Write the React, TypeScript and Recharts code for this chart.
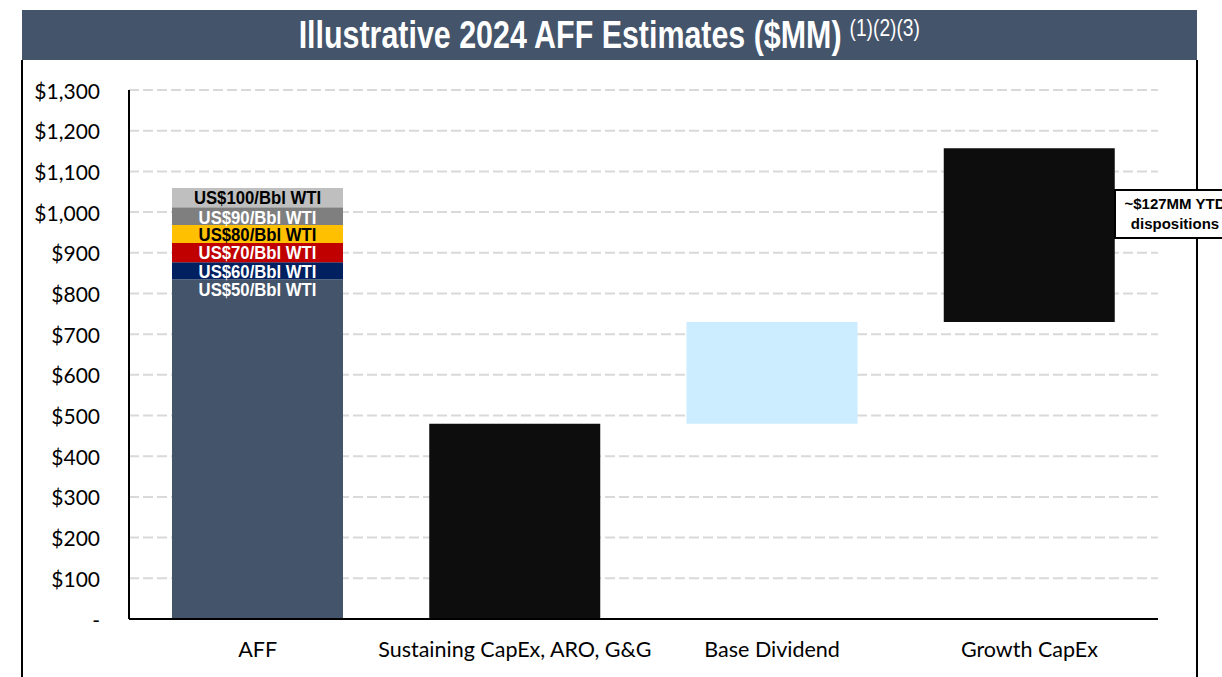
import { BarChart, Bar, XAxis, YAxis, CartesianGrid, Cell, LabelList } from "recharts";

// Categories along the x axis
const categories = ["AFF", "Sustaining CapEx, ARO, G&G", "Base Dividend", "Growth CapEx"];

// AFF stack: increments per WTI price deck ($MM)
const wtiKeys = ["w50", "w60", "w70", "w80", "w90", "w100"];
const wtiLabels = ["US$50/Bbl WTI", "US$60/Bbl WTI", "US$70/Bbl WTI", "US$80/Bbl WTI", "US$90/Bbl WTI", "US$100/Bbl WTI"];
const wtiSteps = [835, 42, 47, 44, 44, 47];
const wtiColors = ["#44546A", "#002060", "#C00000", "#FFC000", "#7F7F7F", "#BFBFBF"];
const wtiTextColors = ["#FFFFFF", "#FFFFFF", "#FFFFFF", "#000000", "#FFFFFF", "#000000"];

// Waterfall uses: invisible base + visible amount
const offsets = [0, 0, 480, 730];
const amounts = [0, 480, 250, 427];
const amountColors = ["#0D0D0D", "#0D0D0D", "#CCECFF", "#0D0D0D"];

const yTicks = [0, 100, 200, 300, 400, 500, 600, 700, 800, 900, 1000, 1100, 1200, 1300];

const data = categories.map((name, i) => {
  const row: any = { name, offset: offsets[i] };
  if (i === 0) {
    wtiKeys.forEach((k, j) => (row[k] = wtiSteps[j]));
  } else {
    row.amount = amounts[i];
  }
  return row;
});

const ARIAL = "'Liberation Sans', Arial, sans-serif";
const BODY = "Lato, 'Open Sans', Calibri, sans-serif";

const fmtY = (v: number) => (v === 0 ? "-" : "$" + v.toLocaleString("en-US"));

const YTick = (props: any) => {
  const { x, y, payload } = props;
  return (
    <text x={x - 21} y={y} textAnchor="end" dominantBaseline="central" fontFamily={BODY} fontSize={21} fill="#000">
      {fmtY(payload.value)}
    </text>
  );
};

const XTick = (props: any) => {
  const { x, y, payload } = props;
  return (
    <text x={x} y={y + 22} textAnchor="middle" dominantBaseline="central" fontFamily={BODY} fontSize={21.5} fill="#000">
      {payload.value}
    </text>
  );
};

// narrow-looking bold label at the top of each AFF segment
const wtiLabel = (idx: number) => (props: any) => {
  const { x, y, width, value } = props;
  if (!value) return null;
  return (
    <text
      transform={`translate(${x + width / 2}, ${y + 10}) scale(0.88, 1)`}
      textAnchor="middle"
      dominantBaseline="central"
      fontFamily={ARIAL}
      fontWeight="bold"
      fontSize={19}
      fill={wtiTextColors[idx]}
    >
      {wtiLabels[idx]}
    </text>
  );
};

export default function App() {
  return (
    <div style={{ position: "absolute", left: 0, top: 0, width: 1222, height: 677, background: "#fff", overflow: "hidden" }}>
      {/* title banner */}
      <div
        style={{
          position: "absolute",
          left: 22,
          top: 10,
          width: 1175,
          height: 50,
          background: "#44546A",
          color: "#fff",
          fontFamily: ARIAL,
          textAlign: "center",
          lineHeight: "50px",
        }}
      >
        <span style={{ display: "inline-block", transform: "scaleX(0.8)", whiteSpace: "nowrap" }}>
          <span style={{ fontWeight: "bold", fontSize: 38 }}>Illustrative 2024 AFF Estimates ($MM)</span>
          <span style={{ fontSize: 24, verticalAlign: "top", lineHeight: "36px", marginLeft: 10 }}>(1)(2)(3)</span>
        </span>
      </div>
      {/* frame sides */}
      <div style={{ position: "absolute", left: 21, top: 60, width: 2, height: 617, background: "#000" }} />
      <div style={{ position: "absolute", left: 1196, top: 60, width: 2, height: 617, background: "#000" }} />

      <div style={{ position: "absolute", left: 0, top: 0 }}>
        <BarChart width={1222} height={677} data={data} margin={{ top: 90, right: 64, bottom: 0, left: 0 }} barSize={171}>
          <CartesianGrid vertical={false} stroke="#D9D9D9" strokeWidth={2} strokeDasharray="10 4" />
          <XAxis
            dataKey="name"
            height={58}
            axisLine={{ stroke: "#000", strokeWidth: 2 }}
            tickLine={false}
            tick={<XTick />}
            interval={0}
          />
          <YAxis
            width={129}
            domain={[0, 1300]}
            ticks={yTicks}
            axisLine={{ stroke: "#000", strokeWidth: 2 }}
            tickLine={false}
            tick={<YTick />}
            interval={0}
          />
          <Bar dataKey="offset" stackId="a" fill="transparent" isAnimationActive={false} />
          {wtiKeys.map((k, j) => (
            <Bar key={k} dataKey={k} stackId="a" fill={wtiColors[j]} isAnimationActive={false}>
              <LabelList dataKey={k} content={wtiLabel(j)} />
            </Bar>
          ))}
          <Bar dataKey="amount" stackId="a" isAnimationActive={false}>
            {data.map((_d, i) => (
              <Cell key={`c-${i}`} fill={amountColors[i]} />
            ))}
          </Bar>
        </BarChart>
      </div>

      {/* callout */}
      <div
        style={{
          position: "absolute",
          left: 1114,
          top: 189,
          width: 118,
          height: 50,
          background: "#fff",
          border: "2px solid #000",
          fontFamily: ARIAL,
          fontWeight: "bold",
          fontSize: 15,
          lineHeight: "20px",
          paddingTop: 3,
          paddingLeft: 4,
          boxSizing: "border-box",
          textAlign: "center",
          whiteSpace: "nowrap",
        }}
      >
        ~$127MM YTD
        <br />
        dispositions
      </div>
    </div>
  );
}
